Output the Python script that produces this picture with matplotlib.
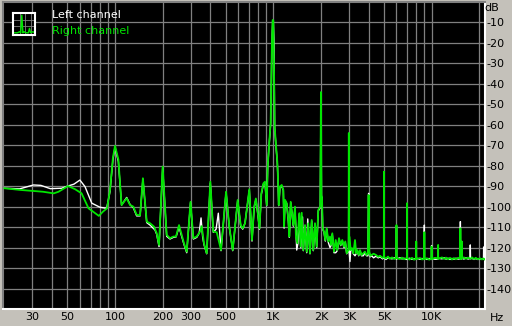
import matplotlib
matplotlib.use("Agg")
import matplotlib.pyplot as plt
from matplotlib.ticker import NullFormatter

# spectrum, right channel (green)
right_f = [20, 25, 29, 35, 41, 44, 50.5, 56, 61.5, 68,
           75, 79, 84, 89, 93, 97, 100, 105, 110, 118.5,
           124.4, 130.5, 137, 144, 150, 158.6, 166.4, 176.4, 183.4, 189.7,
           200, 212, 222.6, 233.5, 242.8, 253.7, 263.8, 272.9, 283.8, 300,
           312.4, 328.2, 344.4, 352.9, 364.9, 379.5, 400, 417.8, 439, 467.4,
           502.8, 527.2, 554, 595.7, 622.3, 640.8, 662.6, 705.4, 733.5, 757,
           776, 795, 818, 840, 866, 886, 909, 922, 940, 962,
           981, 991, 1000, 1010, 1020, 1040, 1060, 1071, 1082, 1102,
           1130, 1157, 1170, 1186, 1215, 1244, 1262, 1288, 1313, 1338,
           1371, 1390, 1418, 1460, 1490, 1512, 1547, 1586, 1626, 1664,
           1705, 1748, 1789, 1834, 1880, 1924, 1980, 2000, 2015, 2030,
           2052, 2091, 2131, 2175, 2226, 2282, 2315, 2359, 2418, 2479,
           2536, 2600, 2666, 2729, 2797, 2850, 2909, 2990, 3000, 3010,
           3021, 3083, 3142, 3202, 3282, 3340, 3394, 3464, 3530, 3610,
           3703, 3796, 3880, 3960, 4000, 4040, 4100, 4184, 4300, 4454,
           4600, 4721, 4900, 4990, 5000, 5010, 5150, 5304, 5450, 5622,
           5800, 5990, 6000, 6010, 6315, 6500, 6694, 6900, 6990, 7000,
           7010, 7250, 7518, 7750, 7990, 8000, 8010, 8448, 8700, 8990,
           9000, 9010, 9352, 9650, 9990, 10000, 10010, 10508, 10990, 11000,
           11010, 11634, 12000, 12331, 12700, 13069, 13450, 13852, 14250, 14682,
           15150, 15200, 15250, 15450, 15500, 15550, 16000, 16490, 17000, 17560,
           18000, 18530, 19000, 19630, 20200, 20810, 21300, 21750]
right_db = [-91.0, -91.8, -92.2, -92.7, -93.5, -92.7, -89.9, -91.5, -93.5, -100.8,
            -103.2, -104.5, -102.4, -100.8, -91.8, -76.0, -70.3, -77.0, -99.2, -95.9,
            -99.2, -100.0, -104.0, -104.2, -86.1, -107.3, -108.1, -109.8, -113.0, -118.7,
            -80.4, -113.8, -115.4, -114.6, -114.6, -109.0, -113.8, -118.0, -122.0, -97.6,
            -115.4, -114.6, -112.2, -109.5, -118.0, -122.8, -87.8, -112.2, -112.5, -121.2,
            -92.7, -109.8, -121.2, -96.7, -109.0, -110.6, -108.1, -91.5, -116.3, -100.0,
            -96.0, -102.0, -110.6, -93.5, -88.6, -87.8, -99.2, -80.0, -70.0, -59.0,
            -18.6, -8.8, -9.0, -31.6, -61.0, -70.0, -78.0, -87.0, -99.2, -90.2,
            -89.4, -91.8, -109.8, -96.7, -98.3, -106.5, -114.6, -97.6, -103.2, -109.0,
            -100.0, -114.6, -117.9, -103.2, -119.5, -103.0, -121.2, -109.0, -122.0, -108.1,
            -122.8, -106.5, -121.2, -108.1, -119.5, -101.6, -100.0, -44.0, -95.0, -95.1,
            -110.6, -112.2, -116.3, -110.6, -117.0, -114.6, -118.7, -113.0, -122.0, -116.3,
            -121.2, -115.4, -118.7, -116.3, -119.5, -117.0, -122.8, -121.0, -64.0, -121.0,
            -114.6, -121.2, -120.3, -122.8, -116.3, -122.8, -121.2, -123.6, -121.2, -123.6,
            -122.8, -122.0, -123.6, -123.0, -94.3, -122.0, -124.0, -123.6, -123.0, -123.6,
            -124.5, -124.0, -125.0, -124.6, -82.9, -124.8, -125.3, -124.4, -125.5, -124.8,
            -125.6, -125.0, -109.0, -125.2, -125.6, -124.9, -125.7, -125.2, -125.0, -98.3,
            -125.3, -125.8, -125.0, -125.9, -125.3, -117.0, -125.6, -125.1, -125.8, -125.4,
            -112.5, -125.7, -125.2, -125.9, -125.4, -119.5, -125.6, -125.0, -125.3, -118.7,
            -125.5, -124.8, -125.6, -124.9, -125.7, -125.0, -125.8, -125.1, -125.7, -125.0,
            -125.3, -110.6, -125.6, -125.2, -117.0, -125.4, -124.8, -125.5, -124.9, -125.5,
            -124.8, -125.6, -125.0, -125.7, -125.2, -125.8, -125.3, -125.9]

# spectrum, left channel (white)
left_f = [20, 25, 30.5, 34, 39, 46, 50.5, 55, 60, 64.6,
          71.3, 80.4, 88.6, 93, 97, 100, 105, 110, 118.5, 124.4,
          130.5, 137, 144, 150, 158.6, 166.4, 178.9, 183.4, 189.7, 200,
          212, 222.6, 233.5, 242.8, 253.7, 263.8, 272.9, 283.8, 300, 312.4,
          328.2, 340, 349.5, 358, 364.9, 379.5, 400, 417.8, 435, 449.4,
          467.4, 502.8, 527.2, 554, 595.7, 622.3, 640.8, 662.6, 705.4, 733.5,
          757, 776, 795, 818, 840, 866, 886, 909, 922, 940,
          962, 981, 991, 1000, 1010, 1020, 1040, 1060, 1071, 1082,
          1102, 1130, 1157, 1170, 1186, 1215, 1244, 1262, 1288, 1313,
          1338, 1371, 1406, 1430, 1460, 1490, 1530, 1547, 1586, 1626,
          1650, 1705, 1748, 1789, 1834, 1880, 1924, 1980, 2000, 2015,
          2030, 2052, 2091, 2131, 2175, 2226, 2282, 2315, 2359, 2418,
          2479, 2536, 2600, 2666, 2729, 2797, 2850, 2909, 2990, 3000,
          3010, 3050, 3083, 3142, 3202, 3282, 3340, 3394, 3464, 3530,
          3610, 3703, 3796, 3880, 3960, 4000, 4040, 4100, 4184, 4300,
          4454, 4600, 4721, 4900, 4990, 5000, 5010, 5150, 5304, 5450,
          5622, 5800, 5990, 6000, 6010, 6315, 6500, 6694, 6900, 6990,
          7000, 7010, 7250, 7518, 7750, 7990, 8000, 8010, 8448, 8700,
          8990, 9000, 9010, 9352, 9650, 9990, 10000, 10010, 10508, 10990,
          11000, 11010, 11634, 12000, 12331, 12700, 13069, 13450, 13852, 14250,
          14682, 15150, 15200, 15250, 15450, 15500, 15550, 16000, 16490, 17000,
          17500, 17560, 17620, 18000, 18530, 19000, 19630, 20200, 20810, 21280,
          21330, 21380, 21750]
left_db = [-91.0, -91.3, -89.4, -89.6, -91.2, -91.0, -89.9, -89.0, -87.0, -90.2,
           -98.3, -100.3, -100.8, -92.5, -77.0, -71.0, -78.0, -99.2, -95.5, -99.0,
           -100.5, -104.5, -104.5, -86.5, -107.8, -109.0, -111.4, -113.5, -119.5, -81.0,
           -114.5, -115.8, -115.0, -114.8, -110.0, -114.5, -118.5, -122.5, -98.0, -115.8,
           -115.0, -113.0, -105.5, -115.0, -118.5, -123.0, -88.5, -112.5, -111.0, -103.2,
           -121.5, -93.0, -110.0, -121.5, -97.0, -109.5, -111.0, -108.0, -92.0, -116.8,
           -100.5, -96.5, -102.5, -111.0, -94.0, -89.0, -88.2, -99.5, -80.5, -70.5,
           -59.5, -19.0, -9.0, -9.2, -20.0, -61.5, -70.5, -78.5, -87.5, -99.5,
           -90.5, -90.0, -92.0, -110.5, -97.0, -98.5, -107.0, -115.0, -98.0, -103.5,
           -109.5, -100.5, -121.2, -118.0, -103.5, -120.0, -105.0, -121.5, -109.5, -122.5,
           -106.0, -123.0, -107.0, -121.5, -108.5, -120.0, -102.0, -100.5, -44.5, -95.5,
           -95.5, -111.0, -112.5, -116.8, -111.0, -117.5, -120.0, -119.0, -113.5, -122.5,
           -122.5, -121.5, -116.0, -119.0, -116.8, -120.0, -117.5, -123.0, -121.5, -64.5,
           -121.5, -126.8, -121.5, -120.8, -123.0, -124.0, -123.0, -121.5, -124.0, -121.5,
           -124.0, -124.0, -122.5, -124.0, -124.0, -93.5, -122.5, -124.5, -124.0, -125.0,
           -124.2, -125.0, -124.5, -125.5, -125.0, -83.5, -125.2, -125.8, -125.0, -125.2,
           -125.5, -125.0, -125.5, -109.5, -125.5, -125.0, -125.5, -125.2, -125.8, -125.5,
           -99.0, -125.6, -125.2, -125.7, -125.4, -125.8, -117.5, -125.2, -125.7, -125.3,
           -125.8, -109.0, -125.2, -125.8, -125.3, -125.8, -119.0, -125.3, -125.7, -125.6,
           -119.0, -125.2, -125.5, -125.0, -125.6, -125.2, -125.8, -125.3, -125.7, -125.2,
           -125.6, -125.5, -107.3, -125.3, -125.6, -117.0, -125.2, -125.6, -125.0, -125.6,
           -125.3, -118.7, -125.5, -125.2, -125.8, -125.3, -125.8, -125.4, -125.6, -125.4,
           -119.7, -125.6, -125.5]

x_major = [30, 50, 100, 200, 300, 500, 1000, 2000, 3000, 5000, 10000]
x_labels = ["30", "50", "100", "200", "300", "500", "1K", "2K", "3K", "5K", "10K"]
x_minor = [40, 60, 70, 80, 90, 400, 600, 700, 800, 900,
           4000, 6000, 7000, 8000, 9000, 20000]
y_ticks = list(range(-140, 0, 10))

# small legend icon
icon_x = [0, 2, 3, 3.5, 4, 4.5, 5, 6, 7, 7.5, 8, 9, 10]
icon_y = [1, 1, 1.5, 1, 9, 1, 1.5, 1, 1, 3, 1, 1.5, 1]

bg = "#c4c1ba"
green = "#00e600"

fig = plt.figure(figsize=(5.12, 3.26), dpi=100, facecolor=bg)
ax = fig.add_axes([3/512, 17/326, 482/512, 307/326])
ax.set_facecolor("black")

ax.plot(left_f, left_db, color="white", lw=1.0, zorder=3)
ax.plot(right_f, right_db, color=green, lw=1.3, zorder=4)

ax.set_xscale("log")
ax.set_xlim(19.6, 21750)
ax.set_ylim(-150, 0)
ax.set_xticks(x_major)
ax.set_xticklabels(x_labels)
ax.set_xticks(x_minor, minor=True)
ax.xaxis.set_minor_formatter(NullFormatter())
ax.yaxis.tick_right()
ax.set_yticks(y_ticks)
ax.set_yticklabels([str(v) for v in y_ticks])
ax.tick_params(which="both", length=0, labelsize=8, colors="black")
ax.tick_params(axis="x", pad=2)
ax.tick_params(axis="y", pad=1)
for lab in ax.get_yticklabels():
    lab.set_horizontalalignment("left")
ax.grid(which="both", color="#808080", lw=0.9)
ax.set_axisbelow(True)

ax.spines["top"].set_color("#808080")
ax.spines["left"].set_color("#808080")
ax.spines["bottom"].set_color("white")
ax.spines["right"].set_color("white")
for s in ax.spines.values():
    s.set_linewidth(1.5)

fig.text(492/512, 1 - 8/326, "dB", ha="center", va="center", fontsize=8)
fig.text(497/512, 1 - 318/326, "Hz", ha="center", va="center", fontsize=8)

fig.text(52/512, 1 - 15/326, "Left channel", color="white", fontsize=8,
         ha="left", va="center")
fig.text(52/512, 1 - 31/326, "Right channel", color=green, fontsize=8,
         ha="left", va="center")

icon = fig.add_axes([13/512, 1 - 35/326, 22/512, 22/326])
icon.set_facecolor("black")
icon.plot(icon_x, icon_y, color=green, lw=1.0)
icon.set_xlim(0, 10)
icon.set_ylim(0, 10)
icon.set_xticks([3, 5.5, 8])
icon.set_yticks([4, 7])
icon.tick_params(length=0, labelbottom=False, labelleft=False)
icon.grid(color="#808080", lw=0.6)
icon.set_axisbelow(True)
for s in icon.spines.values():
    s.set_color("white")
    s.set_linewidth(1.5)

fig.savefig("out.png", dpi=100, facecolor=bg)
